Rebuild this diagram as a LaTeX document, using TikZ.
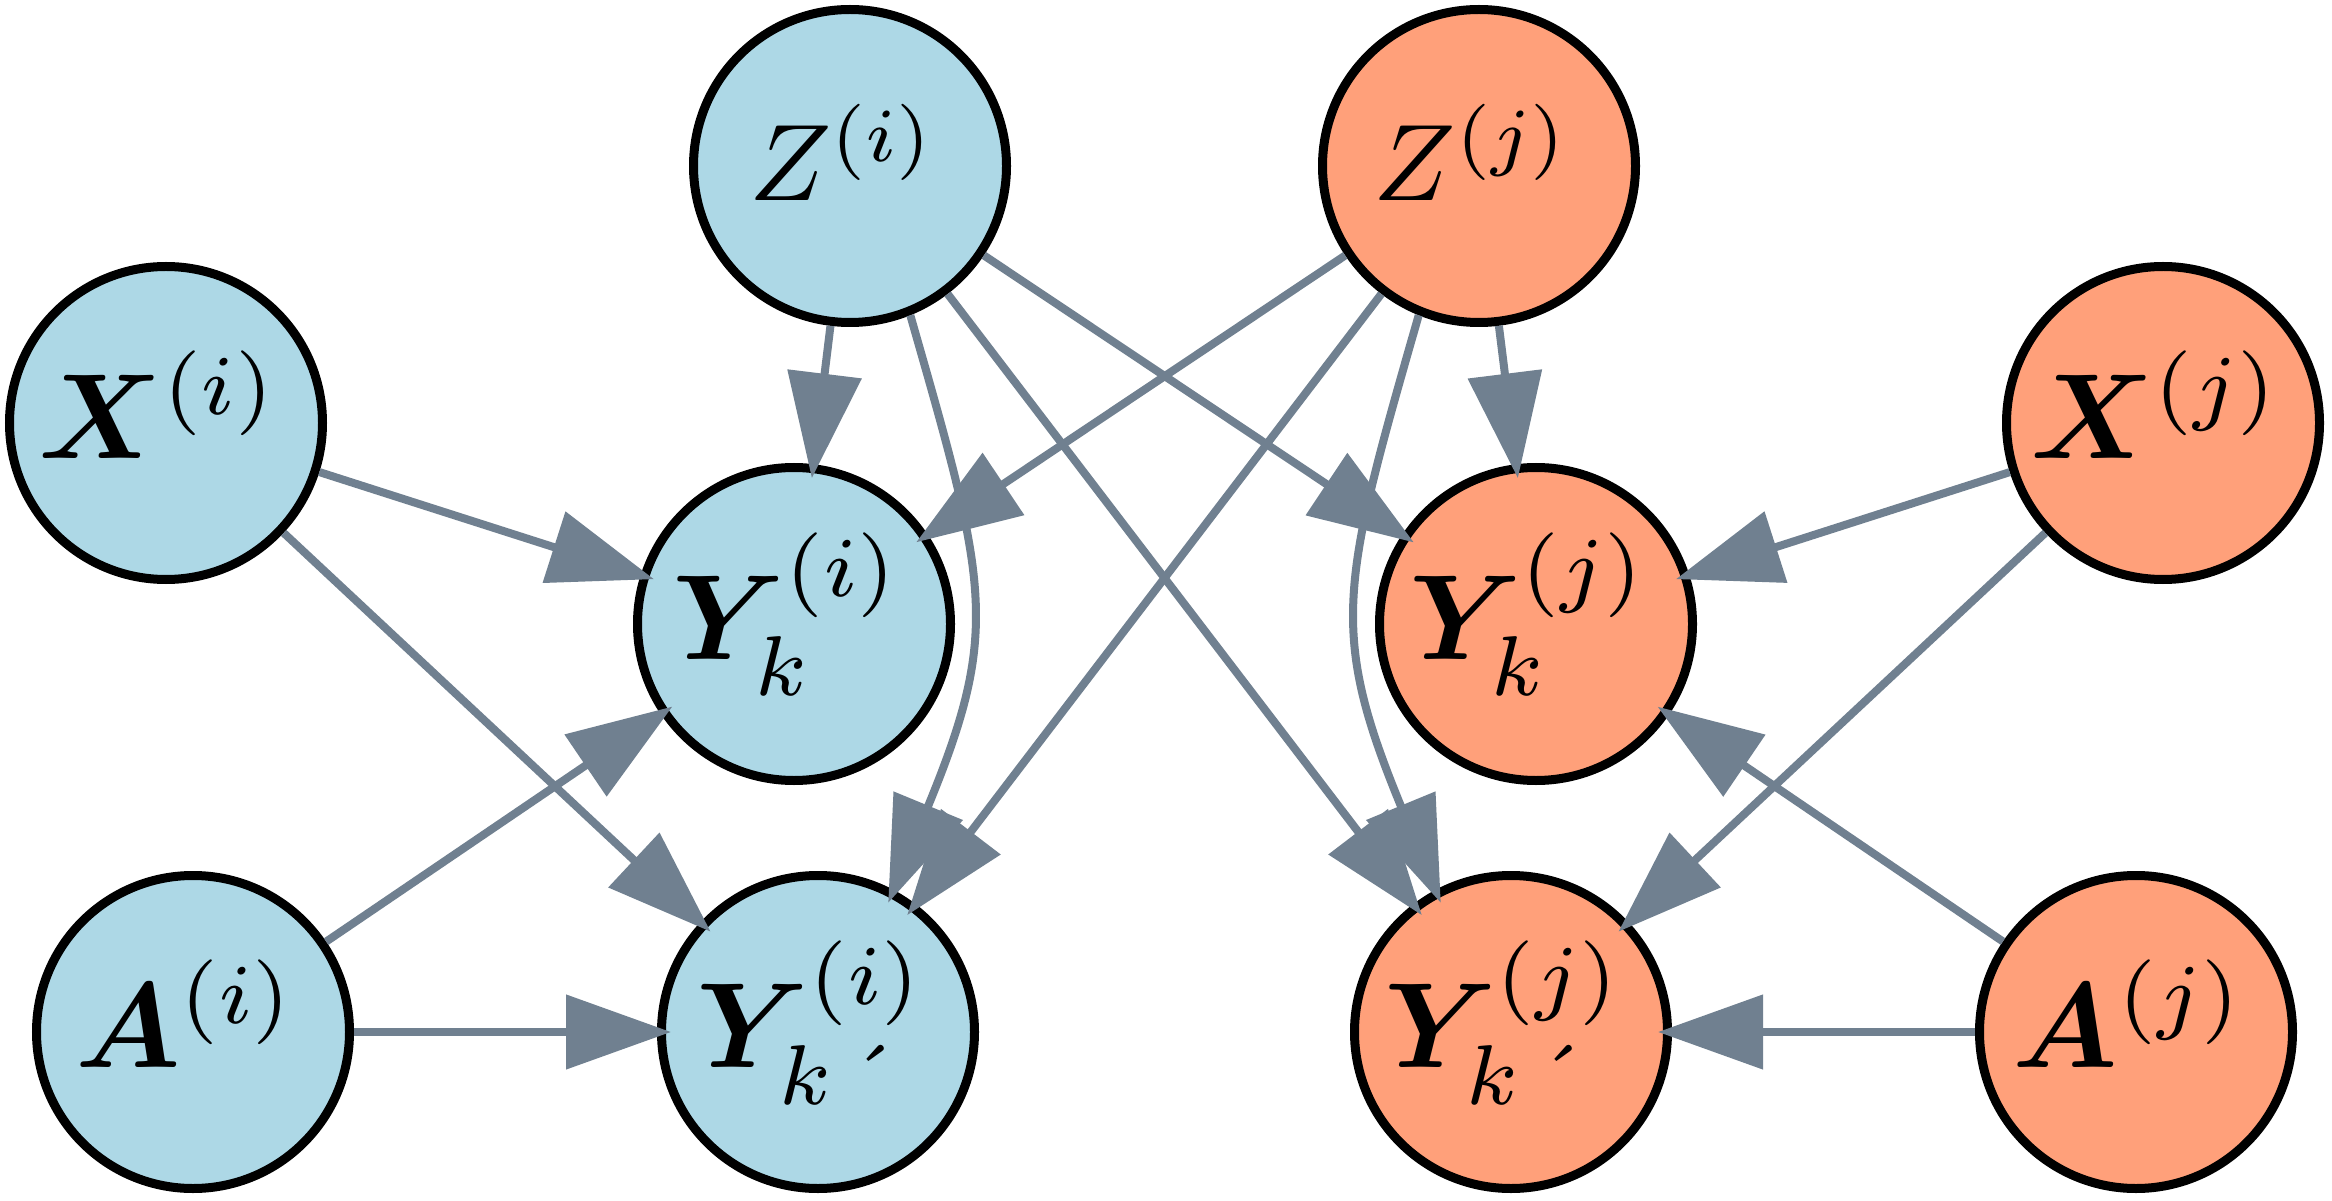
\documentclass[tikz,border=0pt]{standalone}
\usepackage{amsmath}
\usepackage{bm}
\usepackage{graphicx}
\usetikzlibrary{arrows.meta}
\definecolor{nodeblue}{HTML}{ADD8E6}
\definecolor{nodesalmon}{HTML}{FFA07A}
\definecolor{edgegray}{HTML}{708090}
\newcommand{\labZ}[1]{\scalebox{3.1}{$#1$}\kern0.14cm}
\newcommand{\labB}[1]{\scalebox{3.45}{$#1$}\kern0.14cm}
\tikzset{
  vnode/.style={circle, draw=black, line width=0.09cm, minimum size=3.13cm, inner sep=0pt, font=\normalsize},
  bluenode/.style={vnode, fill=nodeblue},
  salmonnode/.style={vnode, fill=nodesalmon},
  zlab/.style={text depth=0.27cm},
  xlab/.style={text depth=0.36cm},
  ylab/.style={text depth=0.56cm},
  edge/.style={draw=edgegray, line width=0.08cm, -{Triangle[length=1.05cm,width=0.73cm]}, shorten >=-0.14cm},
}
\begin{document}
\begin{tikzpicture}
\fill[white] (0,0) rectangle (23.32,12);
\useasboundingbox (0,0) rectangle (23.32,12);

\node[bluenode, zlab] (zi) at (8.50,10.34) {\labZ{Z^{(i)}}};
\node[salmonnode, zlab] (zj) at (14.79,10.34) {\labZ{Z^{(j)}}};
\node[bluenode, xlab] (xi) at (1.66,7.77) {\labB{\bm{X}^{(i)}}};
\node[salmonnode, xlab] (xj) at (21.63,7.77) {\labB{\bm{X}^{(j)}}};
\node[bluenode, ylab] (yki) at (7.94,5.76) {\labB{\bm{Y}_{k}^{(i)}}};
\node[salmonnode, ylab] (ykj) at (15.36,5.76) {\labB{\bm{Y}_{k}^{(j)}}};
\node[bluenode, xlab] (ai) at (1.93,1.68) {\labB{\bm{A}^{(i)}}};
\node[salmonnode, xlab] (aj) at (21.36,1.68) {\labB{\bm{A}^{(j)}}};
\node[bluenode, ylab] (ykpi) at (8.18,1.68) {\labB{\bm{Y}_{k\,\text{\textasciiacute}}^{(i)}}};
\node[salmonnode, ylab] (ykpj) at (15.11,1.68) {\labB{\bm{Y}_{k\,\text{\textasciiacute}}^{(j)}}};

% from Z(i)
\draw[edge] (zi) -- (yki);
\draw[edge] (zi.-68) to[out=-74, in=67.6, looseness=1.25] (ykpi.62);
\draw[edge] (zi) -- (ykj);
\draw[edge] (zi) -- (ykpj);
% from Z(j)
\draw[edge] (zj) -- (ykj);
\draw[edge] (zj.-112) to[out=-106, in=112.4, looseness=1.25] (ykpj.118);
\draw[edge] (zj) -- (yki);
\draw[edge] (zj) -- (ykpi);
% from X
\draw[edge] (xi) -- (yki);
\draw[edge] (xi) -- (ykpi);
\draw[edge] (xj) -- (ykj);
\draw[edge] (xj) -- (ykpj);
% from A
\draw[edge] (ai) -- (yki);
\draw[edge] (ai) -- (ykpi);
\draw[edge] (aj) -- (ykj);
\draw[edge] (aj) -- (ykpj);
\end{tikzpicture}
\end{document}
